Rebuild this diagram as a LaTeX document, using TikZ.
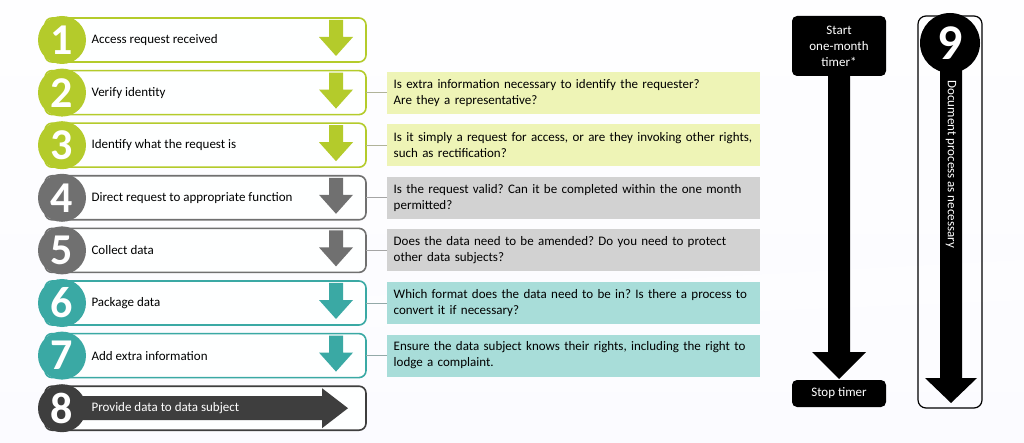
\documentclass[tikz,border=0pt]{standalone}
\usepackage{fontspec}
\setmainfont{Carlito}
\frenchspacing
\begin{document}
\begin{tikzpicture}[x=1pt,y=-1pt,
 rowbox/.style={draw=#1,line width=1.6pt,rounded corners=7pt,fill=white!85!cyan!3},
 num/.style={circle,fill=#1,minimum size=48pt,inner sep=0pt,text=white,font=\bfseries\fontsize{44}{44}\selectfont},
 lbl/.style={anchor=west,font=\fontsize{13}{15}\selectfont},
 qbox/.style={fill=#1,minimum width=373pt,minimum height=42pt,anchor=west,text width=360pt,align=left,font=\fontsize{13}{16}\selectfont},
 blk/.style={fill=black,rounded corners=5pt,text=white,font=\fontsize{13}{16}\selectfont,align=center,minimum width=94pt}]
\definecolor{gA}{HTML}{B4CB2B}\definecolor{gQ}{HTML}{EEF4B6}
\definecolor{yA}{HTML}{707070}\definecolor{yQ}{HTML}{D2D2D2}
\definecolor{tA}{HTML}{3AA9A4}\definecolor{tQ}{HTML}{A8DDD9}
\definecolor{dA}{HTML}{3E3E3E}
\useasboundingbox (0,0) rectangle (1024,443);
\shade[top color=white!90!blue!4, bottom color=white!85!blue!10] (0,0) rectangle (1024,443);
\fill[white,opacity=0.6] (300,300) -- (1024,260) -- (1024,300) -- (300,330) -- cycle;
% rows
\foreach \i/\c/\t [count=\k from 0] in {1/gA/Access request received,2/gA/Verify identity,3/gA/Identify what the request is,4/yA/Direct request to appropriate function,5/yA/Collect data,6/tA/Package data,7/tA/Add extra information}{
 \pgfmathsetmacro{\yy}{40+52.6*\k}
 \draw[rowbox=\c] (45,\yy-22) rectangle (366,\yy+22);
 \node[num=\c] (n\i) at (62,\yy) {\i};
 \node[lbl] (l\i) at (88,\yy) {\t};
 \fill[\c] (329,\yy-20) -- (343,\yy-20) -- (343,\yy-3) -- (353,\yy-3) -- (336,\yy+16) -- (319,\yy-3) -- (329,\yy-3) -- cycle;
 \coordinate (r\i) at (366,\yy);
}
\pgfmathsetmacro{\yy}{40+52.6*7}
\draw[rowbox=dA] (45,\yy-22) rectangle (366,\yy+22);
\fill[dA] (80,\yy-12) -- (322,\yy-12) -- (322,\yy-20) -- (348,\yy) -- (322,\yy+20) -- (322,\yy+12) -- (80,\yy+12) -- cycle;
\node[num=dA] (n8) at (62,\yy) {8};
\node[lbl,text=white] (l8) at (88,\yy) {Provide data to data subject};
% questions
\foreach \i/\c/\t in {2/gQ/{Is extra information necessary to identify the requester?\\Are they a representative?},3/gQ/{Is it simply a request for access, or are they invoking other rights,\\such as rectification?},4/yQ/{Is the request valid? Can it be completed within the one month\\permitted?},5/yQ/{Does the data need to be amended? Do you need to protect\\other data subjects?},6/tQ/{Which format does the data need to be in? Is there a process to\\convert it if necessary?},7/tQ/{Ensure the data subject knows their rights, including the right to\\lodge a complaint.}}{
 \node[qbox=\c] (q\i) at (387,{40+52.6*(\i-1)}) {\t};
 \draw[\c!60!black!70,line width=0.8pt] (r\i) -- (q\i.west);
}
% timer
\node[blk,minimum height=60pt] (st) at (839,46) {Start\\one-month\\timer*};
\node[blk,minimum height=27pt] (sp) at (839,393.5) {Stop timer};
\fill[black] (828,76) -- (850,76) -- (850,352) -- (866,352) -- (839,379) -- (812,352) -- (828,352) -- cycle;
% 9
\draw[black,line width=1.2pt,rounded corners=8pt] (918,16) rectangle (982,408);
\fill[black] (940,40) -- (962,40) -- (962,378) -- (977,378) -- (951,403) -- (925,378) -- (940,378) -- cycle;
\node[circle,fill=black,minimum size=60pt,inner sep=0pt,text=white,font=\bfseries\fontsize{50}{50}\selectfont] (n9) at (950,43) {9};
\node[rotate=-90,text=white,font=\fontsize{13}{15}\selectfont,anchor=west] (t9) at (951,77) {Document process as necessary};
\end{tikzpicture}
\end{document}
